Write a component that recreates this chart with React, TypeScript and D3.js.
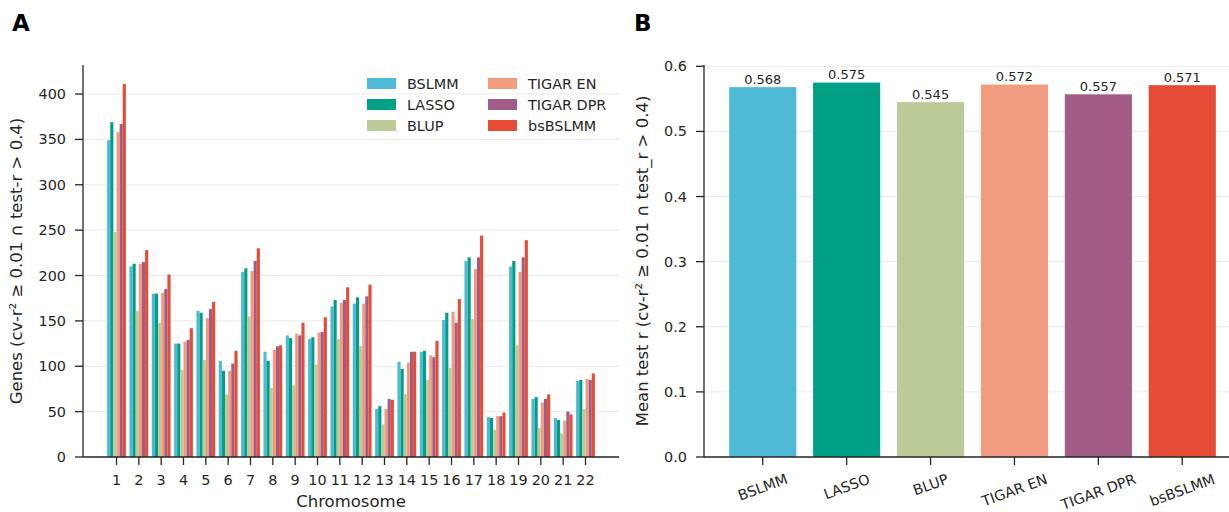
import React, { useEffect, useRef } from 'react'
import * as d3 from 'd3'

const chromosomes = ['1', '2', '3', '4', '5', '6', '7', '8', '9', '10', '11', '12', '13', '14', '15', '16', '17', '18', '19', '20', '21', '22']
const methods = ['BSLMM', 'LASSO', 'BLUP', 'TIGAR EN', 'TIGAR DPR', 'bsBSLMM']
const colors = ['#4EBAD5', '#00A087', '#BACB98', '#F39B7F', '#A15D85', '#E64B35']

// genes per chromosome, one array per method
const bslmm = [349, 210, 180, 125, 161, 106, 204, 116, 134, 130, 166, 169, 53, 105, 116, 151, 216, 44, 210, 64, 43, 84]
const lasso = [369, 213, 180, 125, 159, 95, 208, 106, 131, 132, 173, 176, 56, 97, 117, 159, 220, 43, 216, 66, 41, 85]
const blup = [248, 161, 148, 96, 107, 69, 155, 76, 79, 102, 130, 122, 36, 69, 85, 98, 152, 30, 123, 32, 26, 53]
const tigarEn = [358, 213, 181, 127, 153, 95, 205, 118, 136, 137, 170, 169, 53, 104, 112, 160, 207, 45, 204, 60, 40, 86]
const tigarDpr = [367, 215, 185, 129, 163, 103, 216, 122, 134, 138, 173, 177, 64, 116, 110, 148, 220, 45, 220, 64, 50, 85]
const bsBslmm = [411, 228, 201, 142, 171, 117, 230, 123, 148, 154, 187, 190, 63, 116, 128, 174, 244, 49, 239, 69, 47, 92]

const meanTestR = [0.568, 0.575, 0.545, 0.572, 0.557, 0.571]

const genesTicks = [0, 50, 100, 150, 200, 250, 300, 350, 400]
const meanTicks = [0, 0.1, 0.2, 0.3, 0.4, 0.5, 0.6]

const FONT = 'DejaVu Sans, sans-serif'
const INK = '#262626'
const GRID = '#e9e9e9'

const App = () => {
  const ref = useRef<SVGSVGElement>(null)

  useEffect(() => {
    const svg = d3.select(ref.current)
    svg.selectAll('*').remove()
    const series = [bslmm, lasso, blup, tigarEn, tigarDpr, bsBslmm]

    const top = 65
    const bottom = 457

    // ---------- panel A ----------
    const xA = d3.scaleLinear().domain([-0.5, 23.5]).range([83, 619])
    const yA = d3.scaleLinear().domain([0, 432]).range([bottom, top])
    const barW = 0.14

    const gA = svg.append('g')
    gA.selectAll('line.grid')
      .data(genesTicks)
      .enter()
      .append('line')
      .attr('x1', xA(-0.5))
      .attr('x2', xA(23.5))
      .attr('y1', d => yA(d))
      .attr('y2', d => yA(d))
      .attr('stroke', GRID)
      .attr('stroke-width', 1)

    series.forEach((vals, m) => {
      gA.append('g')
        .selectAll('rect')
        .data(vals)
        .enter()
        .append('rect')
        .attr('x', (d, i) => xA(i + 1 + (m - 3) * barW))
        .attr('y', d => yA(d))
        .attr('width', xA(barW) - xA(0))
        .attr('height', d => yA(0) - yA(d))
        .attr('fill', colors[m])
    })

    const axA = svg.append('g').attr('font-family', FONT).attr('fill', INK)
    axA.append('line').attr('x1', 83).attr('x2', 83).attr('y1', top).attr('y2', bottom).attr('stroke', INK).attr('stroke-width', 1.3)
    axA.append('line').attr('x1', 83).attr('x2', 619).attr('y1', bottom).attr('y2', bottom).attr('stroke', INK).attr('stroke-width', 1.3)

    genesTicks.forEach(t => {
      axA.append('line').attr('x1', 75).attr('x2', 83).attr('y1', yA(t)).attr('y2', yA(t)).attr('stroke', INK).attr('stroke-width', 1.3)
      axA.append('text').attr('x', 66).attr('y', yA(t) + 5).attr('text-anchor', 'end').attr('font-size', 14.4).text(t)
    })
    chromosomes.forEach((c, i) => {
      axA.append('line').attr('x1', xA(i + 1)).attr('x2', xA(i + 1)).attr('y1', bottom).attr('y2', bottom + 8).attr('stroke', INK).attr('stroke-width', 1.3)
      axA.append('text').attr('x', xA(i + 1)).attr('y', 485).attr('text-anchor', 'middle').attr('font-size', 14.4).text(c)
    })
    axA.append('text')
      .attr('x', 351)
      .attr('y', 507)
      .attr('text-anchor', 'middle')
      .attr('font-size', 16.5)
      .text('Chromosome')
    axA.append('text')
      .attr('transform', `translate(22,${(top + bottom) / 2}) rotate(-90)`)
      .attr('text-anchor', 'middle')
      .attr('font-size', 16.5)
      .text('Genes (cv-r² ≥ 0.01 ∩ test-r > 0.4)')

    // legend, two columns of three
    const legend = svg.append('g').attr('font-family', FONT).attr('fill', INK)
    methods.forEach((name, i) => {
      const col = Math.floor(i / 3)
      const row = i % 3
      const lx = 367 + col * 121
      const ly = 83.5 + row * 21
      legend.append('rect').attr('x', lx).attr('y', ly - 5.5).attr('width', 29).attr('height', 11).attr('fill', colors[i])
      legend.append('text').attr('x', lx + 40).attr('y', ly + 5).attr('font-size', 14.4).text(name)
    })

    // ---------- panel B ----------
    const xB = d3.scaleLinear().domain([-0.7, 5.7]).range([704, 1241])
    const yB = d3.scaleLinear().domain([0, 0.602]).range([bottom, top])

    const gB = svg.append('g')
    gB.selectAll('line.grid')
      .data(meanTicks)
      .enter()
      .append('line')
      .attr('x1', 704)
      .attr('x2', 1229)
      .attr('y1', d => yB(d))
      .attr('y2', d => yB(d))
      .attr('stroke', GRID)
      .attr('stroke-width', 1)

    gB.selectAll('rect')
      .data(meanTestR)
      .enter()
      .append('rect')
      .attr('x', (d, i) => xB(i - 0.4))
      .attr('y', d => yB(d))
      .attr('width', xB(0.8) - xB(0))
      .attr('height', d => yB(0) - yB(d))
      .attr('fill', (d, i) => colors[i])

    gB.selectAll('text.val')
      .data(meanTestR)
      .enter()
      .append('text')
      .attr('x', (d, i) => xB(i))
      .attr('y', d => yB(d) - 3.5)
      .attr('text-anchor', 'middle')
      .attr('font-family', FONT)
      .attr('font-size', 13)
      .attr('fill', INK)
      .text(d => d.toFixed(3))

    const axB = svg.append('g').attr('font-family', FONT).attr('fill', INK)
    axB.append('line').attr('x1', 704).attr('x2', 704).attr('y1', top).attr('y2', bottom).attr('stroke', INK).attr('stroke-width', 1.3)
    axB.append('line').attr('x1', 704).attr('x2', 1229).attr('y1', bottom).attr('y2', bottom).attr('stroke', INK).attr('stroke-width', 1.3)
    meanTicks.forEach(t => {
      axB.append('line').attr('x1', 696).attr('x2', 704).attr('y1', yB(t)).attr('y2', yB(t)).attr('stroke', INK).attr('stroke-width', 1.3)
      axB.append('text').attr('x', 687).attr('y', yB(t) + 5).attr('text-anchor', 'end').attr('font-size', 14.4).text(t.toFixed(1))
    })
    const ang = (20 * Math.PI) / 180
    methods.forEach((name, i) => {
      axB.append('line').attr('x1', xB(i)).attr('x2', xB(i)).attr('y1', bottom).attr('y2', bottom + 8).attr('stroke', INK).attr('stroke-width', 1.3)
      const t = axB.append('text')
        .attr('text-anchor', 'middle')
        .attr('dominant-baseline', 'central')
        .attr('font-size', 14.4)
        .text(name)
      const w = (t.node() as SVGTextElement).getComputedTextLength()
      const h = 14.4 * 0.95
      const cy = 472 + (w * Math.sin(ang) + h * Math.cos(ang)) / 2
      t.attr('transform', `translate(${xB(i)},${cy}) rotate(-20)`)
    })
    axB.append('text')
      .attr('transform', `translate(648,${(top + bottom) / 2}) rotate(-90)`)
      .attr('text-anchor', 'middle')
      .attr('font-size', 16.5)
      .text('Mean test r (cv-r² ≥ 0.01 ∩ test_r > 0.4)')

    // panel letters
    svg.append('text').attr('x', 12).attr('y', 31).attr('font-family', FONT).attr('font-weight', 'bold').attr('font-size', 23).text('A')
    svg.append('text').attr('x', 634).attr('y', 31).attr('font-family', FONT).attr('font-weight', 'bold').attr('font-size', 23).text('B')
  }, [])

  return (
    <svg
      ref={ref}
      width={1229}
      height={512}
      style={{ position: 'absolute', left: 0, top: 0, background: '#fff' }}
    />
  )
}

export default App
